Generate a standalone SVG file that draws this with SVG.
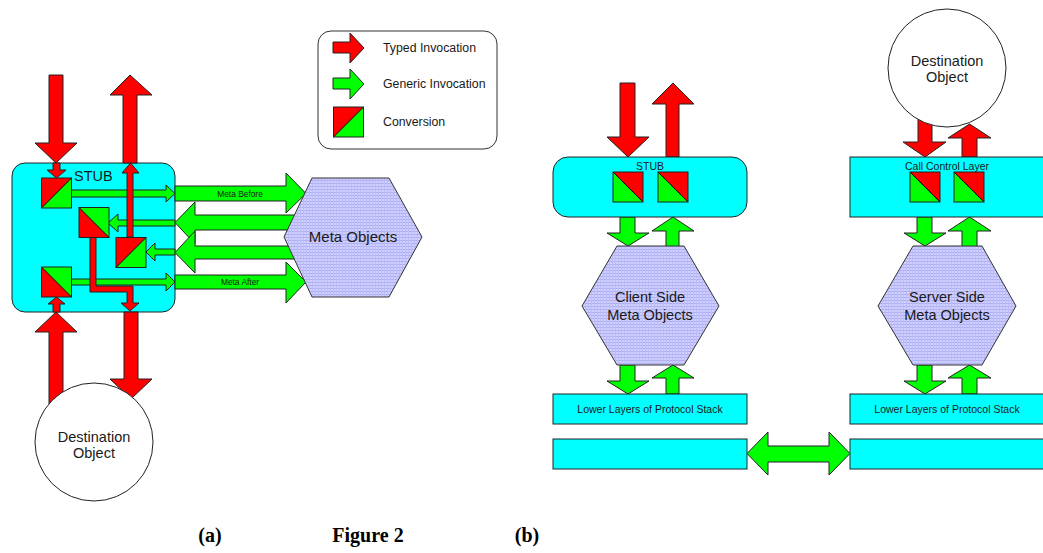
<svg xmlns="http://www.w3.org/2000/svg" width="1043" height="553" viewBox="0 0 1043 553">
  <defs>
    <!-- fine lavender grid used for the meta-object hexagons -->
    <pattern id="grid" width="3" height="3" patternUnits="userSpaceOnUse">
      <rect width="3" height="3" fill="#d0d0ff"/>
      <rect width="3" height="1" fill="#adadf2"/>
      <rect width="1" height="3" fill="#bcbcf8"/>
    </pattern>
    <!-- conversion square: red / green halves split by a diagonal -->
    <g id="convA">
      <rect width="30" height="30" fill="#00ff00"/>
      <polygon points="0,0 30,0 0,30" fill="#ff0000"/>
      <line x1="0" y1="30" x2="30" y2="0" stroke="#000" stroke-width="1"/>
      <rect width="30" height="30" fill="none" stroke="#222" stroke-width="1"/>
    </g>
    <g id="convB">
      <rect width="30" height="30" fill="#00ff00"/>
      <polygon points="0,0 0,30 30,30" fill="#ff0000"/>
      <line x1="0" y1="0" x2="30" y2="30" stroke="#000" stroke-width="1"/>
      <rect width="30" height="30" fill="none" stroke="#222" stroke-width="1"/>
    </g>
    <g id="convC">
      <rect width="30" height="30" fill="#00ff00"/>
      <polygon points="0,0 30,0 30,30" fill="#ff0000"/>
      <line x1="0" y1="0" x2="30" y2="30" stroke="#000" stroke-width="1"/>
      <rect width="30" height="30" fill="none" stroke="#222" stroke-width="1"/>
    </g>
  </defs>
  <style>
    .red { fill: #ff0000; stroke: #222; stroke-width: 1; }
    .green { fill: #00ff00; stroke: #222; stroke-width: 1; }
    .layer { fill: #00ffff; stroke: #222; stroke-width: 1; }
    .hex { fill: url(#grid); stroke: #333; stroke-width: 1; }
    .obj { fill: #ffffff; stroke: #222; stroke-width: 1; }
    .legend { fill: #ffffff; stroke: #333; stroke-width: 1; }
    text { font-family: "Liberation Sans", Arial, sans-serif; fill: #1a1a1a; }
    .big { font-size: 14.5px; text-anchor: middle; }
    .small { font-size: 10.5px; text-anchor: middle; }
    .tiny { font-size: 8.4px; text-anchor: middle; }
    .leg { font-size: 12.3px; }
    .cap { font-family: "Liberation Serif", "Times New Roman", serif; font-weight: bold; font-size: 20px; fill: #000; text-anchor: middle; }
  </style>

  <rect width="1043" height="553" fill="#ffffff"/>

  <!-- ===================== (a) ===================== -->
  <g id="stub-a">
    <rect class="layer" x="12" y="163" width="163" height="149" rx="13"/>
    <text x="74" y="181" style="font-size:14.5px">STUB</text>
  </g>

  <g id="connectors-a">
    <!-- generic invocations inside the stub -->
    <polygon class="green" points="71,190 166,190 166,185 175,193.5 166,202 166,197 71,197"/>
    <polygon class="green" points="175,220 118,220 118,214 108,223 118,232 118,226 175,226"/>
    <polygon class="green" points="175,249 155,249 155,243 146,252 155,261 155,255 175,255"/>
    <polygon class="green" points="71,279 166,279 166,273 175,282 166,291 166,285 71,285"/>

    <!-- generic invocations to and from the meta objects -->
    <polygon class="green" points="175,186 286,186 286,173 306,193.5 286,213 286,201 175,201"/>
    <polygon class="green" points="310,215 195,215 195,202 175,222.5 195,244 195,230 310,230"/>
    <polygon class="green" points="310,246 195,246 195,231 175,252.5 195,273 195,259 310,259"/>
    <polygon class="green" points="175,275 286,275 286,262 306,282 286,303 286,289 175,289"/>

    <!-- typed invocations -->
    <polygon class="red" points="49,75 63,75 63,143 77,143 56,163 35,143 49,143"/>
    <polygon class="red" points="53,163 60,163 60,170 66,170 56.5,178 47,170 53,170"/>
    <polygon class="red" points="123,163 123,95 110,95 130,75 152,95 137,95 137,163"/>
    <polygon class="red" points="127,237 127,173 122,173 130.5,163 139,173 133,173 133,237"/>
    <polygon class="red" points="90,237 96,237 96,286 133,286 133,303 139,303 130,311 121,303 127,303 127,292 90,292"/>
    <polygon class="red" points="53,312 53,304 48,304 56.5,297 65,304 60,304 60,312"/>
    <polygon class="red" points="49,420 49,332 35,332 56,312 77,332 63,332 63,420"/>
    <polygon class="red" points="124,312 138,312 138,379 152,379 131,399 110,379 124,379"/>
  </g>

  <g id="conv-a">
    <use href="#convA" x="41.5" y="178"/>
    <use href="#convB" x="79" y="207.5"/>
    <use href="#convA" x="116" y="237.5"/>
    <use href="#convB" x="41.5" y="267"/>
  </g>

  <g id="meta-objects-a">
    <polygon class="hex" points="284,237 312,178 389,178 422,237 389,297 312,297"/>
    <text class="big" x="353" y="242" style="font-size:15px">Meta Objects</text>
  </g>

  <g id="labels-a">
    <text class="tiny" x="240" y="196.5">Meta Before</text>
    <text class="tiny" x="240" y="285">Meta After</text>
  </g>

  <g id="destination-a">
    <circle class="obj" cx="94" cy="442" r="59"/>
    <text class="big" x="94" y="442">Destination</text>
    <text class="big" x="94" y="458">Object</text>
  </g>

  <!-- legend -->
  <g id="legend">
    <rect class="legend" x="318" y="31" width="179" height="118" rx="13"/>
    <polygon class="red" points="333,42 350,42 350,33 364,48 350,63 350,53 333,53"/>
    <polygon class="green" points="333,78 350,78 350,69 364,84 350,99 350,89 333,89"/>
    <use href="#convA" x="333.5" y="107"/>
    <text class="leg" x="383" y="52">Typed Invocation</text>
    <text class="leg" x="383" y="88">Generic Invocation</text>
    <text class="leg" x="383" y="126">Conversion</text>
  </g>

  <!-- ===================== (b) ===================== -->
  <g id="connectors-b">
    <!-- client side -->
    <polygon class="red" points="620,83 635,83 635,137 649,137 628,157 607,137 620,137"/>
    <polygon class="red" points="666,157 666,104 652,104 673,83 694,104 679,104 679,157"/>
    <polygon class="green" points="620,217 635,217 635,233 649,233 628,246 607,233 620,233"/>
    <polygon class="green" points="666,248 666,231 652,231 673,217 694,231 679,231 679,248"/>
    <polygon class="green" points="620,365 635,365 635,381 649,381 628,394 607,381 620,381"/>
    <polygon class="green" points="666,394 666,378 652,378 673,365 694,378 679,378 679,394"/>

    <!-- server side -->
    <polygon class="red" points="918,118 932,118 932,142 946,142 925,157 903,142 918,142"/>
    <polygon class="red" points="962,157 962,138 948,138 969.5,124 991,138 977,138 977,157"/>
    <polygon class="green" points="917,217 932,217 932,233 946,233 925,246 904,233 917,233"/>
    <polygon class="green" points="962,248 962,231 948,231 969.5,217 991,231 977,231 977,248"/>
    <polygon class="green" points="917,365 932,365 932,381 946,381 925,394 904,381 917,381"/>
    <polygon class="green" points="962,394 962,378 948,378 969.5,365 991,378 977,378 977,394"/>

    <!-- link between the two protocol stacks -->
    <polygon class="green" points="747,453.5 768,432 768,446 829,446 829,432 850,453.5 829,475 829,462 768,462 768,475"/>
  </g>

  <g id="stub-b">
    <rect class="layer" x="553" y="157" width="194" height="60" rx="15"/>
    <text class="small" x="650" y="170">STUB</text>
    <use href="#convC" x="613" y="172"/>
    <use href="#convC" x="658" y="172"/>
  </g>

  <g id="client-meta">
    <polygon class="hex" points="582,306 617,246 684,246 719,306 684,365 617,365"/>
    <text class="big" x="650" y="302">Client Side</text>
    <text class="big" x="650" y="320">Meta Objects</text>
  </g>

  <g id="client-lower">
    <rect class="layer" x="553" y="394" width="194" height="30"/>
    <text class="small" x="650" y="413">Lower Layers of Protocol Stack</text>
  </g>

  <g id="client-link">
    <rect class="layer" x="553" y="439" width="194" height="30"/>
  </g>

  <g id="destination-b">
    <circle class="obj" cx="947" cy="68" r="59"/>
    <text class="big" x="947" y="66">Destination</text>
    <text class="big" x="947" y="82">Object</text>
  </g>

  <g id="call-control">
    <rect class="layer" x="850" y="157" width="200" height="60"/>
    <text class="small" x="947" y="170">Call Control Layer</text>
    <use href="#convC" x="910" y="172"/>
    <use href="#convC" x="954" y="172"/>
  </g>

  <g id="server-meta">
    <polygon class="hex" points="878,306 913,246 982,246 1016,306 982,365 913,365"/>
    <text class="big" x="947" y="302">Server Side</text>
    <text class="big" x="947" y="320">Meta Objects</text>
  </g>

  <g id="server-lower">
    <rect class="layer" x="850" y="394" width="200" height="30"/>
    <text class="small" x="947" y="413">Lower Layers of Protocol Stack</text>
  </g>

  <g id="server-link">
    <rect class="layer" x="850" y="439" width="200" height="30"/>
  </g>

  <!-- captions -->
  <g id="captions">
    <text class="cap" x="210" y="542">(a)</text>
    <text class="cap" x="368" y="542">Figure 2</text>
    <text class="cap" x="527" y="542">(b)</text>
  </g>
</svg>
